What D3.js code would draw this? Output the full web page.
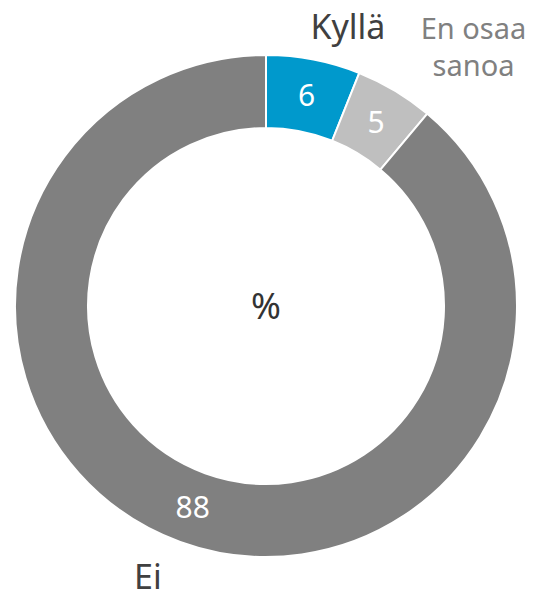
<!DOCTYPE html>
<html>
<head>
<meta charset="utf-8">
<script src="https://cdn.jsdelivr.net/npm/d3@7"></script>
<style>
  body { margin: 0; background: #fff; }
  text { font-family: "Noto Sans", "DejaVu Sans", sans-serif; }
</style>
</head>
<body>
<script>
//Size
var w = 533;
var h = 593;

//Data
var categories = ["Kyllä", "En osaa sanoa", "Ei"];
var values = [6, 5, 88];
var colors = ["#0099cc", "#bfbfbf", "#808080"];
var labelColors = ["#404040", "#808080", "#404040"];
var centerLabel = "%";

var cx = 266, cy = 306;
var outerR = 251, innerR = 178;

var svg = d3.select("body")
            .append("svg")
            .attr("width", w)
            .attr("height", h);

var g = svg.append("g")
           .attr("transform", "translate(" + cx + "," + cy + ")");

var pie = d3.pie().sort(null).value(function(d) { return d; });
var arcs = pie(values);

var arc = d3.arc().innerRadius(innerR).outerRadius(outerR);

//Slices
g.selectAll("path")
  .data(arcs)
  .enter()
  .append("path")
  .attr("d", arc)
  .attr("fill", function(d, i) { return colors[i]; })
  .attr("stroke", "#fff")
  .attr("stroke-width", 2);

//Values inside the ring
g.selectAll("text.val")
  .data(arcs)
  .enter()
  .append("text")
  .attr("class", "val")
  .attr("transform", function(d) { return "translate(" + arc.centroid(d) + ")"; })
  .attr("text-anchor", "middle")
  .attr("dy", "0.36em")
  .attr("fill", "#fff")
  .attr("font-size", 30)
  .text(function(d) { return d.data; });

//Category labels outside (nudged like the original)
var labelArc = d3.arc().innerRadius(290).outerRadius(290);
var wideArc = d3.arc().innerRadius(330).outerRadius(330);
var nudge = [[27, 6], [38, 6], [-19, -2]];

arcs.forEach(function(d, i) {
  var words = categories[i] === "En osaa sanoa" ? ["En osaa", "sanoa"] : [categories[i]];
  var p = words.length > 1 ? wideArc.centroid(d) : labelArc.centroid(d);
  var x = p[0] + nudge[i][0], y = p[1] + nudge[i][1];
  var t = g.append("text")
    .attr("x", x)
    .attr("y", y)
    .attr("text-anchor", "middle")
    .attr("fill", labelColors[i])
    .attr("font-size", words.length > 1 ? 29 : 34);
  words.forEach(function(wd, j) {
    t.append("tspan")
      .attr("x", x)
      .attr("dy", j === 0 ? "0.36em" : 37)
      .text(wd);
  });
});

//Center
g.append("text")
  .attr("text-anchor", "middle")
  .attr("dy", "0.36em")
  .attr("fill", "#333")
  .attr("font-size", 36)
  .text(centerLabel);
</script>
</body>
</html>
